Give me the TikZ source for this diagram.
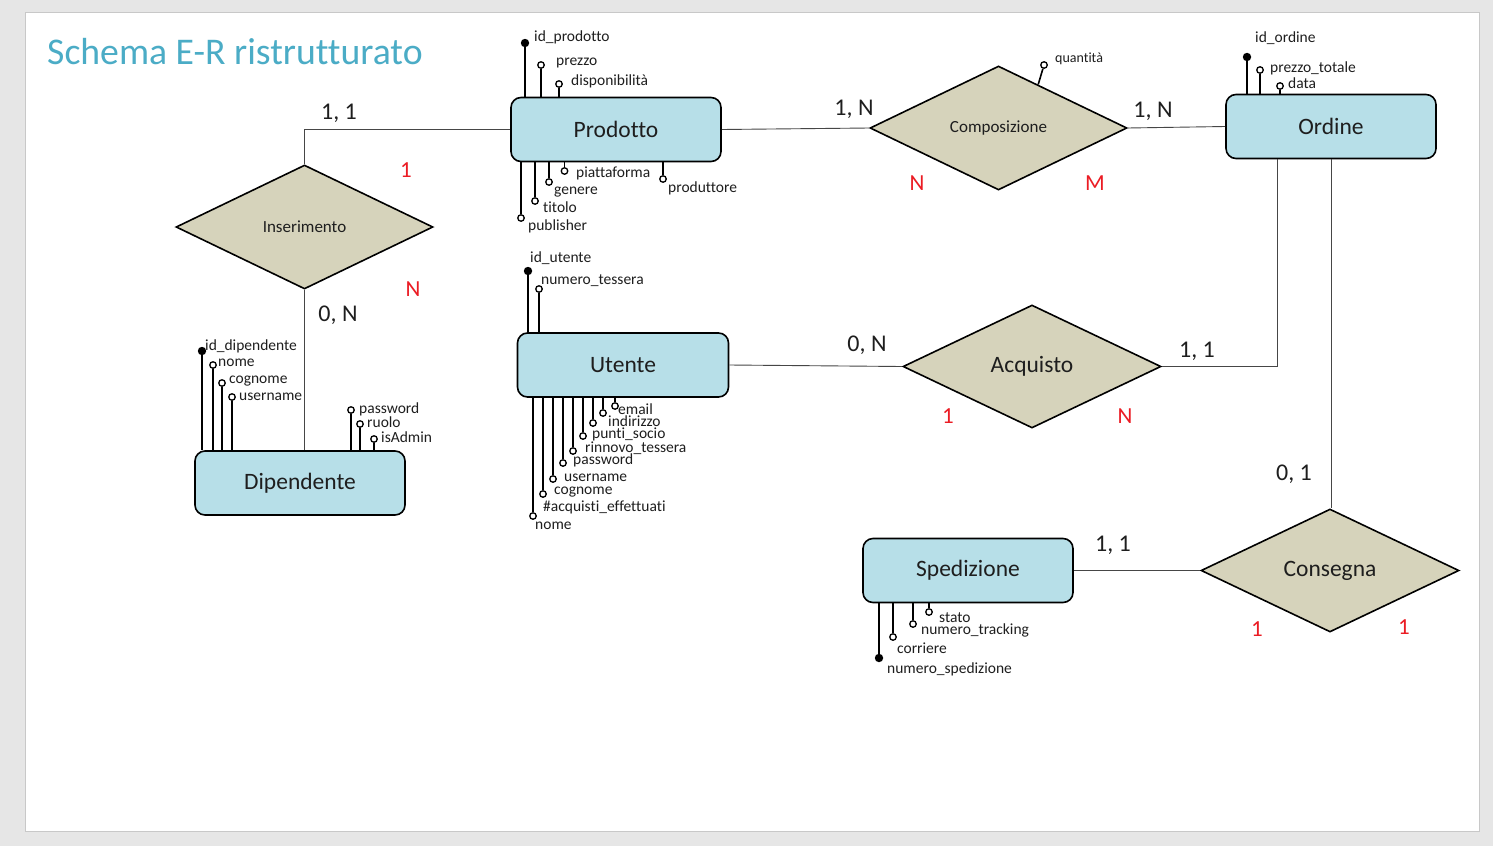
\documentclass[tikz,border=0pt]{standalone}
\usepackage{fontspec}
\setmainfont{Carlito}[Ligatures=NoCommon]
\usetikzlibrary{shapes.geometric,calc}
\definecolor{entfill}{RGB}{183,223,232}
\definecolor{relfill}{RGB}{214,211,187}
\definecolor{titlecol}{RGB}{75,172,198}
\definecolor{bggray}{RGB}{230,230,230}
\definecolor{slideborder}{RGB}{200,200,200}
\definecolor{conncol}{RGB}{70,70,70}
\definecolor{redcard}{RGB}{235,28,36}
\definecolor{txt}{RGB}{30,30,30}
\newcommand\erattr[8]{%
  \node[#8] (#1) at (#2,#3) {};
  \node[albl] (#1l) at (#4,#5) {#6};
  \draw[aline] (#1) -- (#1 |- #7);
}
\begin{document}
\begin{tikzpicture}[x=1pt,y=-1pt,
  entity/.style={draw=black, line width=1.6pt, fill=entfill, rounded corners=10pt,
    minimum width=210pt, minimum height=64pt, inner sep=0pt,
    font=\fontsize{23.5}{23.5}\selectfont, text=txt},
  relbox/.style={diamond, draw=black, line width=1.6pt, fill=relfill,
    minimum width=257pt, minimum height=124pt, inner sep=0pt, text=txt},
  conn/.style={draw=conncol, line width=0.9pt},
  aline/.style={draw=black, line width=1.9pt},
  atto/.style={circle, draw=black, line width=1.3pt, fill=white, minimum size=6.5pt, inner sep=0pt},
  attk/.style={circle, draw=black, line width=1.3pt, fill=black, minimum size=7pt, inner sep=0pt},
  albl/.style={anchor=west, inner sep=0pt, font=\fontsize{15.5}{15.5}\selectfont, text=txt,
    text height=11pt, text depth=0pt},
  card/.style={inner sep=0pt, font=\fontsize{24}{24}\selectfont, text=txt},
  redc/.style={inner sep=0pt, font=\fontsize{23}{23}\selectfont, text=redcard}
]
\useasboundingbox (0,0) rectangle (1493,846);
\fill[bggray] (0,0) rectangle (1493,846);
\draw[slideborder, fill=white, line width=0.8pt] (25,12) rectangle (1479,831);

% title
\node[anchor=west, inner sep=0pt, text=titlecol, font=\fontsize{37.7}{37.7}\selectfont] (title) at (47,52) {Schema E-R ristrutturato};

% entities
\node[entity] (P) at (616,129.5) {Prodotto};
\node[entity] (O) at (1331,126.5) {Ordine};
\node[entity, minimum width=211pt] (U) at (623,365) {Utente};
\node[entity] (D) at (300,483) {Dipendente};
\node[entity] (S) at (968,570.5) {Spedizione};

% relationships
\node[relbox, font=\fontsize{17}{17}\selectfont] (I) at (304.5,227) {Inserimento};
\node[relbox, font=\fontsize{17}{17}\selectfont] (C) at (998.5,128) {Composizione};
\node[relbox, minimum width=258pt, minimum height=123pt, font=\fontsize{23.5}{23.5}\selectfont] (A) at (1032,366.5) {Acquisto};
\node[relbox, minimum width=258pt, minimum height=123pt, font=\fontsize{23.5}{23.5}\selectfont] (G) at (1330,570.5) {Consegna};

% connectors
\draw[conn] (P.west) -| (I.north);
\draw[conn] (I.south) -- (I.south |- D.north);
\draw[conn] (P.east) -- (C.west);
\draw[conn] (C.east) -- (O.west);
\draw[conn] (U.east) -- (A.west);
\draw[conn] (A.east) -| ([xshift=-54pt]O.south);
\draw[conn] (O.south) -- (O.south |- G.north);
\draw[conn] (G.west) -- (S.east);

% cardinalities
\node[card] (k1) at (339,113) {1, 1};
\node[card] (k2) at (338,315) {0, N};
\node[card] (k3) at (854,109) {1, N};
\node[card] (k4) at (1153,111) {1, N};
\node[card] (k5) at (867,345) {0, N};
\node[card] (k6) at (1197,351) {1, 1};
\node[card] (k7) at (1294,474) {0, 1};
\node[card] (k8) at (1113,545) {1, 1};

\node[redc] (r1) at (406,170) {1};
\node[redc] (r2) at (413,289) {N};
\node[redc] (r3) at (917,183) {N};
\node[redc] (r4) at (1095,183) {M};
\node[redc] (r5) at (948,416) {1};
\node[redc] (r6) at (1125,416) {N};
\node[redc] (r7) at (1257,629) {1};
\node[redc] (r8) at (1404,627) {1};

% Prodotto attributes
\erattr{pa1}{525}{43}{534}{36}{id\_prodotto}{P.north}{attk}
\erattr{pa2}{541}{65}{556}{60}{prezzo}{P.north}{atto}
\erattr{pa3}{559}{84}{571}{80}{disponibilità}{P.north}{atto}
\erattr{pa4}{564.5}{171}{576}{172}{piattaforma}{P.south}{atto}
\erattr{pa5}{549}{182}{554}{189}{genere}{P.south}{atto}
\erattr{pa6}{535}{201}{543}{207}{titolo}{P.south}{atto}
\erattr{pa7}{521}{218}{528}{225}{publisher}{P.south}{atto}
\erattr{pa8}{663}{179}{668}{187}{produttore}{P.south}{atto}

% Ordine attributes
\erattr{oa1}{1247}{57}{1255}{37}{id\_ordine}{O.north}{attk}
\erattr{oa2}{1260}{70}{1270}{67}{prezzo\_totale}{O.north}{atto}
\erattr{oa3}{1280}{86}{1288}{83}{data}{O.north}{atto}

% Dipendente attributes
\erattr{da1}{202}{351}{205}{345}{id\_dipendente}{D.north}{attk}
\erattr{da2}{213}{365}{218}{361}{nome}{D.north}{atto}
\erattr{da3}{222}{383}{229}{378}{cognome}{D.north}{atto}
\erattr{da4}{232}{397}{239}{395}{username}{D.north}{atto}
\erattr{da5}{351}{410}{359}{408}{password}{D.north}{atto}
\erattr{da6}{360}{424}{367}{422}{ruolo}{D.north}{atto}
\erattr{da7}{374}{439}{381}{437}{isAdmin}{D.north}{atto}

% Utente attributes
\erattr{ua1}{528}{271}{530}{257}{id\_utente}{U.north}{attk}
\erattr{ua2}{539}{289}{541}{279}{numero\_tessera}{U.north}{atto}
\erattr{ua3}{615}{406}{618}{409}{email}{U.south}{atto}
\erattr{ua4}{603}{413}{608}{421}{indirizzo}{U.south}{atto}
\erattr{ua5}{593}{423}{592}{433}{punti\_socio}{U.south}{atto}
\erattr{ua6}{583}{436}{585}{447}{rinnovo\_tessera}{U.south}{atto}
\erattr{ua7}{573}{451}{573}{459}{password}{U.south}{atto}
\erattr{ua8}{563}{463}{564}{476}{username}{U.south}{atto}
\erattr{ua9}{553}{479}{554}{489}{cognome}{U.south}{atto}
\erattr{ua10}{543}{494}{543}{506}{\#acquisti\_effettuati}{U.south}{atto}
\erattr{ua11}{533}{516}{535}{524}{nome}{U.south}{atto}

% Spedizione attributes
\erattr{sa1}{879}{658}{887}{668}{numero\_spedizione}{S.south}{attk}
\erattr{sa2}{893}{637}{897}{648}{corriere}{S.south}{atto}
\erattr{sa3}{913}{624}{921}{629}{numero\_tracking}{S.south}{atto}
\erattr{sa4}{929}{612}{939}{617}{stato}{S.south}{atto}

% Composizione attribute
\coordinate (qe) at ($(C.north)!0.307!(C.east)$);
\node[atto] (qa) at (1044,65) {};
\node[albl, font=\fontsize{14}{14}\selectfont] (qal) at (1055,57) {quantità};
\draw[aline, line width=1.6pt] (qa) -- (qe);
\end{tikzpicture}
\end{document}
